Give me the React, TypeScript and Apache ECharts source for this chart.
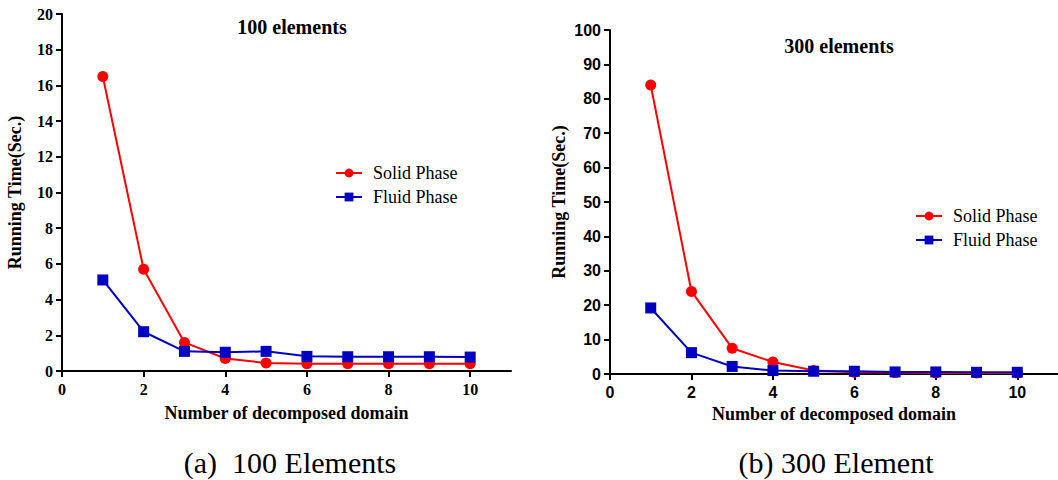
import React, { useEffect, useRef } from "react";
import * as echarts from "echarts";

const domains = [1, 2, 3, 4, 5, 6, 7, 8, 9, 10];
const solid100 = [16.5, 5.7, 1.6, 0.7, 0.45, 0.4, 0.4, 0.4, 0.4, 0.4];
const fluid100 = [5.1, 2.2, 1.1, 1.05, 1.1, 0.82, 0.8, 0.8, 0.8, 0.78];
const solid300 = [84, 24, 7.5, 3.5, 1.0, 0.5, 0.4, 0.3, 0.3, 0.3];
const fluid300 = [19.2, 6.2, 2.2, 1.0, 0.8, 0.8, 0.6, 0.6, 0.5, 0.5];

const seriesNames = ["Solid Phase", "Fluid Phase"];
const panelTitles = ["100 elements", "300 elements"];
const captions = ["(a)  100 Elements", "(b) 300 Element"];
const xName = "Number of decomposed domain";
const yName = "Running Time(Sec.)";

const RED = "#ff0000";
const BLUE = "#0000c0";
const SERIF = "'Liberation Serif', 'Times New Roman', serif";
const SANS = "'Liberation Sans', Arial, sans-serif";

function pairs(ys: number[]) {
  return ys.map((v, i) => [domains[i], v]);
}

export default function App() {
  const ref = useRef<HTMLDivElement>(null);
  useEffect(() => {
    if (!ref.current) return;
    const chart = echarts.init(ref.current, undefined, { renderer: "svg" });
    const axisLine = { show: true, lineStyle: { color: "#000", width: 2 } };
    const axisTick = { show: true, length: 6, lineStyle: { color: "#000", width: 2 } };
    const mkX = (gridIndex: number, font: string, gap: number) => ({
      type: "value",
      gridIndex,
      min: 0,
      max: 11,
      interval: 2,
      axisLine,
      axisTick,
      splitLine: { show: false },
      axisLabel: {
        color: "#000",
        fontWeight: "bold",
        fontSize: 16,
        fontFamily: font,
        margin: 10,
        showMaxLabel: false,
      },
      name: xName,
      nameLocation: "middle",
      nameGap: gap,
      nameTextStyle: { color: "#000", fontWeight: "bold", fontSize: 18, fontFamily: SERIF },
    });
    const mkY = (gridIndex: number, max: number, interval: number, font: string, gap: number) => ({
      type: "value",
      gridIndex,
      min: 0,
      max,
      interval,
      axisLine,
      axisTick,
      splitLine: { show: false },
      axisLabel: { color: "#000", fontWeight: "bold", fontSize: 16, fontFamily: font, margin: 9 },
      name: yName,
      nameLocation: "middle",
      nameGap: gap,
      nameTextStyle: { color: "#000", fontWeight: "bold", fontSize: 18, fontFamily: SERIF },
    });
    const mkSeries = (name: string, data: number[], idx: number, color: string, symbol: string) => ({
      type: "line",
      name,
      xAxisIndex: idx,
      yAxisIndex: idx,
      data: pairs(data),
      symbol,
      symbolSize: 11,
      itemStyle: { color },
      lineStyle: { color, width: 2 },
    });
    const legendBase = {
      orient: "vertical",
      itemWidth: 26,
      itemHeight: 11,
      itemGap: 6,
      data: seriesNames,
      textStyle: { color: "#000", fontSize: 18, fontFamily: SERIF, padding: [0, 0, 0, 6] },
    };
    chart.setOption({
      animation: false,
      backgroundColor: "#fff",
      grid: [
        { left: 62, top: 14, width: 449, height: 357 },
        { left: 610, top: 30, width: 448, height: 344 },
      ],
      xAxis: [mkX(0, SERIF, 33), mkX(1, SANS, 30)],
      yAxis: [mkY(0, 20, 2, SERIF, 38), mkY(1, 100, 10, SANS, 42)],
      title: [
        {
          text: panelTitles[0],
          left: 287,
          top: 12,
          textAlign: "center",
          textStyle: { fontFamily: SERIF, fontWeight: "bold", fontSize: 20, color: "#000" },
        },
        {
          text: panelTitles[1],
          left: 834,
          top: 31,
          textAlign: "center",
          textStyle: { fontFamily: SERIF, fontWeight: "bold", fontSize: 20, color: "#000" },
        },
      ],
      legend: [
        { ...legendBase, left: 330, top: 159 },
        { ...legendBase, left: 910, top: 202 },
      ],
      series: [
        mkSeries(seriesNames[0], solid100, 0, RED, "circle"),
        mkSeries(seriesNames[1], fluid100, 0, BLUE, "rect"),
        mkSeries(seriesNames[0], solid300, 1, RED, "circle"),
        mkSeries(seriesNames[1], fluid300, 1, BLUE, "rect"),
      ],
      graphic: [
        {
          type: "text",
          x: 290,
          y: 462,
          style: { text: captions[0], fontFamily: SERIF, fontSize: 30, fill: "#000", align: "center", verticalAlign: "middle" },
        },
        {
          type: "text",
          x: 836,
          y: 462,
          style: { text: captions[1], fontFamily: SERIF, fontSize: 30, fill: "#000", align: "center", verticalAlign: "middle" },
        },
      ],
    });
    return () => chart.dispose();
  }, []);
  return (
    <div
      ref={ref}
      style={{ position: "fixed", left: 0, top: 0, width: 1058, height: 480 }}
    />
  );
}
